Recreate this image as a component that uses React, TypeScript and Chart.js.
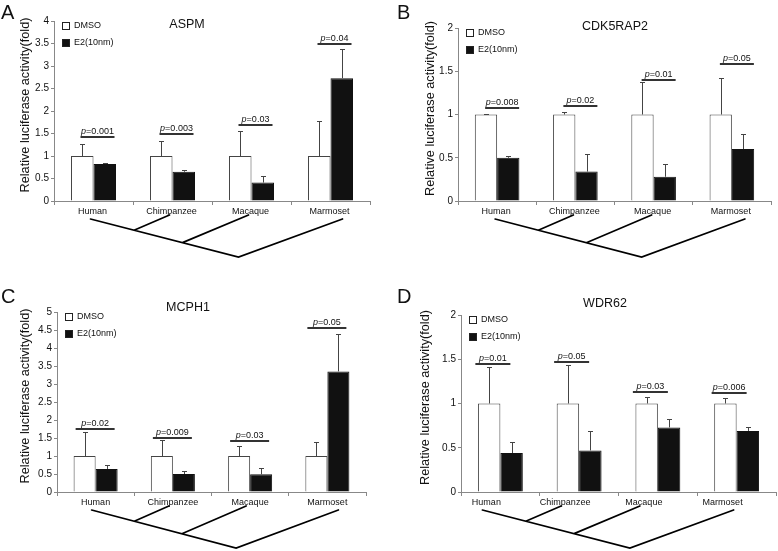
import React, { useEffect, useRef } from "react";
import { Chart, registerables } from "chart.js";
Chart.register(...registerables);

// ---------- data ----------
const categories = ["Human", "Chimpanzee", "Macaque", "Marmoset"];
const seriesNames = ["DMSO", "E2(10nm)"];

const aspmDmso = [1, 1, 1, 1];
const aspmDmsoErr = [0.27, 0.33, 0.55, 0.77];
const aspmE2 = [0.82, 0.65, 0.41, 2.73];
const aspmE2Err = [0.02, 0.04, 0.14, 0.64];
const aspmP = ["0.001", "0.003", "0.03", "0.04"];
const aspmPLevel = [1.43, 1.5, 1.69, 3.5];

const cdkDmso = [1, 1, 1, 1];
const cdkDmsoErr = [0.01, 0.03, 0.37, 0.42];
const cdkE2 = [0.5, 0.34, 0.28, 0.6];
const cdkE2Err = [0.02, 0.2, 0.15, 0.17];
const cdkP = ["0.008", "0.02", "0.01", "0.05"];
const cdkPLevel = [1.075, 1.094, 1.4, 1.58];

const mcphDmso = [1, 1, 1, 1];
const mcphDmsoErr = [0.66, 0.45, 0.28, 0.38];
const mcphE2 = [0.64, 0.5, 0.49, 3.35];
const mcphE2Err = [0.1, 0.08, 0.18, 1.03];
const mcphP = ["0.02", "0.009", "0.03", "0.05"];
const mcphPLevel = [1.75, 1.51, 1.42, 4.56];

const wdrDmso = [1, 1, 1, 1];
const wdrDmsoErr = [0.41, 0.43, 0.07, 0.06];
const wdrE2 = [0.44, 0.47, 0.73, 0.69];
const wdrE2Err = [0.12, 0.22, 0.09, 0.04];
const wdrP = ["0.01", "0.05", "0.03", "0.006"];
const wdrPLevel = [1.45, 1.465, 1.13, 1.115];

const yTitle = "Relative luciferase activity(fold)";
const FONT = '"Liberation Sans", Arial, Helvetica, sans-serif';

type Panel = {
  letter: string;
  title: string;
  x: number;
  y: number;
  w: number;
  h: number;
  area: { l: number; t: number; r: number; b: number };
  yMax: number;
  dmso: number[];
  dmsoErr: number[];
  e2: number[];
  e2Err: number[];
  pVals: string[];
  pLevels: number[];
  titleX: number;
  titleY: number;
  yTitleX: number;
  letterX: number;
  letterY: number;
  pOff: [number, number];
  labelOffset: number;
  treeShift: number;
};

const panels: Panel[] = [
  {
    letter: "A", title: "ASPM", x: 0, y: 0, w: 389, h: 275,
    area: { l: 54, t: 21, r: 370, b: 201 }, yMax: 4,
    dmso: aspmDmso, dmsoErr: aspmDmsoErr, e2: aspmE2, e2Err: aspmE2Err,
    pVals: aspmP, pLevels: aspmPLevel,
    titleX: 187, titleY: 25, yTitleX: 25, letterX: 1, letterY: 19,
    pOff: [-13, 21], labelOffset: -1, treeShift: 0,
  },
  {
    letter: "B", title: "CDK5RAP2", x: 388, y: 0, w: 390, h: 275,
    area: { l: 70, t: 28, r: 383, b: 201 }, yMax: 2,
    dmso: cdkDmso, dmsoErr: cdkDmsoErr, e2: cdkE2, e2Err: cdkE2Err,
    pVals: cdkP, pLevels: cdkPLevel,
    titleX: 227, titleY: 27, yTitleX: 42, letterX: 9, letterY: 19,
    pOff: [-12, 22], labelOffset: -1, treeShift: 1,
  },
  {
    letter: "C", title: "MCPH1", x: 0, y: 275, w: 389, h: 276,
    area: { l: 57, t: 37, r: 366, b: 217 }, yMax: 5,
    dmso: mcphDmso, dmsoErr: mcphDmsoErr, e2: mcphE2, e2Err: mcphE2Err,
    pVals: mcphP, pLevels: mcphPLevel,
    titleX: 188, titleY: 33, yTitleX: 25, letterX: 1, letterY: 28,
    pOff: [-20, 19], labelOffset: 0, treeShift: -1,
  },
  {
    letter: "D", title: "WDR62", x: 388, y: 275, w: 390, h: 276,
    area: { l: 73, t: 40, r: 388, b: 217 }, yMax: 2,
    dmso: wdrDmso, dmsoErr: wdrDmsoErr, e2: wdrE2, e2Err: wdrE2Err,
    pVals: wdrP, pLevels: wdrPLevel,
    titleX: 217, titleY: 29, yTitleX: 37, letterX: 9, letterY: 28,
    pOff: [-25, 10], labelOffset: -14, treeShift: -15,
  },
];

function makePlugin(p: Panel) {
  return {
    id: "annot" + p.letter,
    afterDatasetsDraw(chart: any) {
      const ctx: CanvasRenderingContext2D = chart.ctx;
      const xs = chart.scales.x;
      const ys = chart.scales.y;
      const area = chart.chartArea;
      ctx.save();

      // error bars
      const sets = [
        { vals: p.dmso, errs: p.dmsoErr },
        { vals: p.e2, errs: p.e2Err },
      ];
      sets.forEach((s, di) => {
        const meta = chart.getDatasetMeta(di);
        meta.data.forEach((bar: any, i: number) => {
          const x = Math.round(bar.x) + 0.5;
          const y0 = ys.getPixelForValue(s.vals[i]);
          const y1 = Math.round(ys.getPixelForValue(s.vals[i] + s.errs[i])) + 0.5;
          ctx.strokeStyle = "#444";
          ctx.lineWidth = 1;
          ctx.beginPath();
          ctx.moveTo(x, y0);
          ctx.lineTo(x, y1);
          ctx.moveTo(x - 2.5, y1);
          ctx.lineTo(x + 2.5, y1);
          ctx.stroke();
        });
      });

      // p-value annotations
      categories.forEach((_, i) => {
        const c = xs.getPixelForValue(i);
        const x0 = c + p.pOff[0];
        const x1 = c + p.pOff[1];
        const y = Math.round(ys.getPixelForValue(p.pLevels[i]));
        ctx.strokeStyle = "#333";
        ctx.lineWidth = 2;
        ctx.beginPath();
        ctx.moveTo(x0, y);
        ctx.lineTo(x1, y);
        ctx.stroke();
        const italic = `italic 9px ${FONT}`;
        const normal = `9px ${FONT}`;
        const rest = "=" + p.pVals[i];
        ctx.font = italic;
        const w1 = ctx.measureText("p").width;
        ctx.font = normal;
        const w2 = ctx.measureText(rest).width;
        const start = (x0 + x1) / 2 - (w1 + w2) / 2;
        ctx.fillStyle = "#111";
        ctx.textBaseline = "alphabetic";
        ctx.textAlign = "left";
        ctx.font = italic;
        ctx.fillText("p", start, y - 3);
        ctx.font = normal;
        ctx.fillText(rest, start + w1, y - 3);
      });

      // legend
      const lx = area.left + 8;
      const ly = area.top + 1;
      const fills = ["#ffffff", "#111111"];
      seriesNames.forEach((name, i) => {
        const by = ly + i * 17;
        ctx.fillStyle = fills[i];
        ctx.fillRect(lx, by, 7, 7);
        ctx.strokeStyle = "#222";
        ctx.lineWidth = 1;
        ctx.strokeRect(lx + 0.5, by + 0.5, 7, 7);
        ctx.fillStyle = "#111";
        ctx.font = `9px ${FONT}`;
        ctx.textBaseline = "middle";
        ctx.textAlign = "left";
        ctx.fillText(name, lx + 12, by + 4);
      });

      // title
      ctx.fillStyle = "#111";
      ctx.font = `12.5px ${FONT}`;
      ctx.textAlign = "center";
      ctx.textBaseline = "middle";
      ctx.fillText(p.title, p.titleX, p.titleY);

      // panel letter
      ctx.font = `20px ${FONT}`;
      ctx.textAlign = "left";
      ctx.textBaseline = "alphabetic";
      ctx.fillText(p.letter, p.letterX, p.letterY);

      // y title
      ctx.save();
      ctx.translate(p.yTitleX, (area.top + area.bottom) / 2 - 6);
      ctx.rotate(-Math.PI / 2);
      ctx.font = `12.7px ${FONT}`;
      ctx.textAlign = "center";
      ctx.textBaseline = "middle";
      ctx.fillStyle = "#111";
      ctx.fillText(yTitle, 0, 0);
      ctx.restore();

      // cladogram
      const cs = categories.map((_, i) => xs.getPixelForValue(i));
      const sh = p.treeShift;
      const base = area.bottom;
      const tipDx = [-3, -3, -3, 12];
      const tipDy = [18, 14, 14, 18];
      const tips = cs.map((c, i) => [c + tipDx[i] + sh, base + tipDy[i]]);
      const root = [cs[2] - 13 + sh, base + 56];
      const H = tips[0];
      const onLine = (x: number) => H[1] + ((x - H[0]) * (root[1] - H[1])) / (root[0] - H[0]);
      const j1x = (cs[0] + cs[1]) / 2 + 1 + sh;
      const j2x = cs[1] + 10 + sh;
      ctx.strokeStyle = "#000";
      ctx.lineWidth = 1.7;
      ctx.lineCap = "round";
      ctx.beginPath();
      ctx.moveTo(H[0], H[1]);
      ctx.lineTo(root[0], root[1]);
      ctx.lineTo(tips[3][0], tips[3][1]);
      ctx.moveTo(tips[1][0], tips[1][1]);
      ctx.lineTo(j1x, onLine(j1x));
      ctx.moveTo(tips[2][0], tips[2][1]);
      ctx.lineTo(j2x, onLine(j2x));
      ctx.stroke();

      ctx.restore();
    },
  };
}

function PanelChart({ p }: { p: Panel }) {
  const ref = useRef<HTMLCanvasElement | null>(null);
  useEffect(() => {
    if (!ref.current) return;
    const chart = new Chart(ref.current, {
      type: "bar",
      data: {
        labels: categories,
        datasets: [
          {
            label: seriesNames[0],
            data: p.dmso,
            backgroundColor: "#ffffff",
            borderColor: "#444",
            borderWidth: 1,
            categoryPercentage: 0.57,
            barPercentage: 1,
          },
          {
            label: seriesNames[1],
            data: p.e2,
            backgroundColor: "#111111",
            borderColor: "#111111",
            borderWidth: 1,
            categoryPercentage: 0.57,
            barPercentage: 1,
          },
        ],
      },
      options: {
        animation: false,
        responsive: false,
        maintainAspectRatio: false,
        layout: {
          padding: { left: 0, top: p.area.t, right: p.w - p.area.r, bottom: 0 },
        },
        plugins: {
          legend: { display: false },
          tooltip: { enabled: false },
          title: { display: false },
        },
        scales: {
          x: {
            offset: true,
            grid: {
              display: true,
              drawOnChartArea: false,
              drawTicks: true,
              tickLength: 4,
              color: "#888",
              offset: true,
            },
            border: { display: true, color: "#888", width: 1 },
            ticks: {
              color: "#111",
              font: { family: FONT, size: 9 },
              padding: 1,
              labelOffset: p.labelOffset,
              maxRotation: 0,
              autoSkip: false,
            },
            afterFit: (s: any) => {
              s.height = p.h - p.area.b;
            },
          },
          y: {
            min: 0,
            max: p.yMax,
            grid: {
              display: true,
              drawOnChartArea: false,
              drawTicks: true,
              tickLength: 3,
              color: "#888",
            },
            border: { display: true, color: "#888", width: 1 },
            ticks: {
              stepSize: 0.5,
              color: "#111",
              font: { family: FONT, size: 10 },
              padding: 2,
              callback: (v: any) => String(+v),
            },
            afterFit: (s: any) => {
              s.width = p.area.l;
            },
          },
        },
      },
      plugins: [makePlugin(p)],
    } as any);
    return () => chart.destroy();
  }, [p]);
  return (
    <canvas
      ref={ref}
      width={p.w}
      height={p.h}
      style={{ position: "absolute", left: p.x, top: p.y, width: p.w, height: p.h }}
    />
  );
}

export default function App() {
  return (
    <div
      style={{
        position: "absolute",
        left: 0,
        top: 0,
        width: 778,
        height: 551,
        background: "#fff",
        overflow: "hidden",
      }}
    >
      {panels.map((p) => (
        <PanelChart key={p.letter} p={p} />
      ))}
    </div>
  );
}
